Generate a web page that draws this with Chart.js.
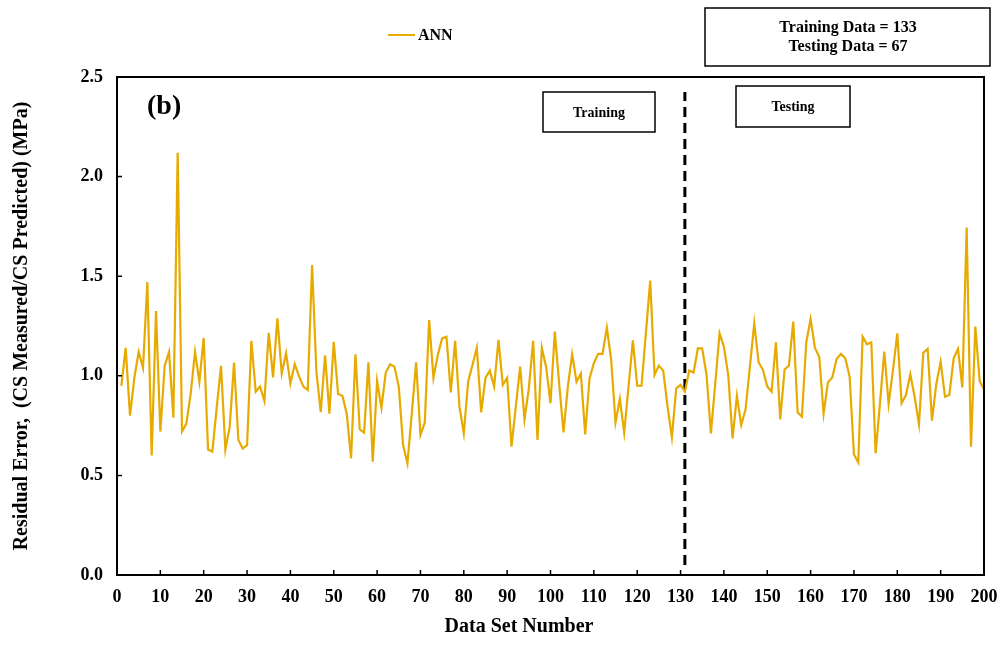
<!DOCTYPE html>
<html>
<head>
<meta charset="utf-8">
<title>Residual Error - ANN</title>
<script src="https://cdn.jsdelivr.net/npm/chart.js@4/dist/chart.umd.min.js"></script>
<style>
  html, body { margin: 0; padding: 0; background: #fff; }
  canvas { display: block; }
</style>
</head>
<body>
<canvas id="residualChart" width="1006" height="662"></canvas>
<script>
// ANN residual error (CS measured / CS predicted) for data sets 1..200
const annValues = [
  0.95, 1.14, 0.80, 0.99, 1.12, 1.04, 1.47, 0.60, 1.325, 0.72,
  1.05, 1.12, 0.79, 2.12, 0.72, 0.76, 0.91, 1.12, 0.97, 1.19,
  0.63, 0.62, 0.84, 1.05, 0.63, 0.745, 1.066, 0.678, 0.635, 0.652,
  1.176, 0.92, 0.946, 0.873, 1.216, 0.992, 1.289, 1.012, 1.113, 0.962,
  1.058, 0.997, 0.946, 0.929, 1.556, 1.02, 0.817, 1.103, 0.81, 1.17,
  0.909, 0.90, 0.81, 0.586, 1.108, 0.731, 0.715, 1.068, 0.569, 0.974,
  0.84, 1.016, 1.058, 1.046, 0.946, 0.652, 0.56, 0.81, 1.068, 0.703,
  0.765, 1.28, 0.99, 1.104, 1.188, 1.196, 0.917, 1.176, 0.845, 0.711,
  0.97, 1.054, 1.141, 0.817, 0.99, 1.026, 0.946, 1.18, 0.954, 0.99,
  0.644, 0.845, 1.046, 0.781, 0.937, 1.176, 0.678, 1.14, 1.043, 0.862,
  1.222, 0.96, 0.716, 0.946, 1.108, 0.97, 1.012, 0.706, 0.987, 1.063,
  1.11, 1.11, 1.242, 1.079, 0.766, 0.884, 0.715, 0.946, 1.178, 0.95,
  0.95, 1.213, 1.478, 1.004, 1.051, 1.026, 0.845, 0.691, 0.937, 0.954,
  0.92, 1.026, 1.016, 1.139, 1.137, 1.004, 0.711, 0.96, 1.213, 1.146,
  1.004, 0.686, 0.899, 0.753, 0.832, 1.046, 1.263, 1.068, 1.03, 0.946,
  0.92, 1.168, 0.781, 1.032, 1.051, 1.272, 0.817, 0.795, 1.168, 1.285,
  1.14, 1.096, 0.81, 0.967, 0.992, 1.084, 1.11, 1.088, 0.996, 0.605,
  0.565, 1.196, 1.158, 1.168, 0.611, 0.862, 1.121, 0.858, 1.029, 1.213,
  0.862, 0.904, 1.007, 0.895, 0.756, 1.116, 1.135, 0.775, 0.959, 1.071,
  0.895, 0.904, 1.088, 1.135, 0.942, 1.744, 0.644, 1.247, 0.974, 0.932
];
const dataSetNumbers = annValues.map((v, i) => i + 1);

// training / testing split marker
const splitX = [131, 131];
const splitY = [0.05, 2.425];

const yTicks = [0, 0.5, 1.0, 1.5, 2.0, 2.5];

const serif = '"Liberation Serif", "Times New Roman", serif';
const gold = '#E6AA00';

// frame, inward ticks, legend and text boxes
const decor = {
  id: 'decor',
  afterDraw(chart) {
    const { ctx, chartArea: a, scales } = chart;
    const x = scales.x, y = scales.y;
    ctx.save();

    ctx.strokeStyle = '#000';
    ctx.lineWidth = 2;
    ctx.strokeRect(a.left, a.top, a.right - a.left, a.bottom - a.top);

    ctx.lineWidth = 1.5;
    ctx.beginPath();
    x.ticks.forEach(t => {
      const px = x.getPixelForValue(t.value);
      ctx.moveTo(px, a.bottom);
      ctx.lineTo(px, a.bottom - 5);
    });
    y.ticks.forEach(t => {
      const py = y.getPixelForValue(t.value);
      ctx.moveTo(a.left, py);
      ctx.lineTo(a.left + 5, py);
    });
    ctx.stroke();

    ctx.fillStyle = '#000';

    // legend
    ctx.strokeStyle = gold;
    ctx.lineWidth = 2;
    ctx.beginPath();
    ctx.moveTo(388, 35);
    ctx.lineTo(415, 35);
    ctx.stroke();
    ctx.font = 'bold 16px ' + serif;
    ctx.textAlign = 'left';
    ctx.textBaseline = 'middle';
    ctx.fillText('ANN', 418, 36);

    // data count box
    ctx.strokeStyle = '#000';
    ctx.lineWidth = 1.5;
    ctx.strokeRect(705, 8, 285, 58);
    ctx.textAlign = 'center';
    ctx.fillText('Training Data = 133', 848, 28);
    ctx.fillText('Testing Data = 67', 848, 47);

    // panel label
    ctx.font = 'bold 28px ' + serif;
    ctx.textAlign = 'left';
    ctx.fillText('(b)', 147, 107);

    // phase boxes
    ctx.font = 'bold 14px ' + serif;
    ctx.textAlign = 'center';
    ctx.strokeRect(543, 92, 112, 40);
    ctx.fillText('Training', 599, 113);
    ctx.strokeRect(736, 86, 114, 41);
    ctx.fillText('Testing', 793, 107);

    // x axis title
    ctx.font = 'bold 20px ' + serif;
    ctx.fillText('Data Set Number', 519, 627);

    ctx.restore();
  }
};

new Chart(document.getElementById('residualChart'), {
  type: 'line',
  data: {
    datasets: [
      {
        label: 'ANN',
        data: dataSetNumbers.map((n, i) => ({ x: n, y: annValues[i] })),
        borderColor: gold,
        borderWidth: 2.2,
        pointRadius: 0,
        tension: 0,
        fill: false
      },
      {
        label: 'split',
        data: splitX.map((v, i) => ({ x: v, y: splitY[i] })),
        borderColor: '#000',
        borderWidth: 3,
        borderDash: [10, 6],
        pointRadius: 0,
        fill: false
      }
    ]
  },
  options: {
    responsive: false,
    animation: false,
    devicePixelRatio: 1,
    layout: { autoPadding: false, padding: { left: 0, top: 77, right: 22, bottom: 0 } },
    plugins: {
      legend: { display: false },
      tooltip: { enabled: false }
    },
    scales: {
      x: {
        type: 'linear',
        min: 0,
        max: 200,
        grid: { display: false, drawTicks: false },
        border: { display: false },
        ticks: {
          stepSize: 10,
          padding: 12,
          color: '#000',
          font: { family: serif, size: 18, weight: 'bold' }
        },
        afterFit(scale) {
          scale.height = 87;
          scale.paddingLeft = 0;
          scale.paddingRight = 0;
        }
      },
      y: {
        type: 'linear',
        min: 0,
        max: 2.5,
        grid: { display: false, drawTicks: false },
        border: { display: false },
        afterBuildTicks(scale) { scale.ticks = yTicks.map(v => ({ value: v })); },
        ticks: {
          padding: 14,
          color: '#000',
          font: { family: serif, size: 18, weight: 'bold' },
          callback: v => v.toFixed(1)
        },
        title: {
          display: true,
          text: 'Residual Error,  (CS Measured/CS Predicted) (MPa)',
          color: '#000',
          font: { family: serif, size: 20, weight: 'bold' },
          padding: { top: 10, bottom: 0 }
        },
        afterFit(scale) { scale.width = 117; }
      }
    }
  },
  plugins: [decor]
});
</script>
</body>
</html>
